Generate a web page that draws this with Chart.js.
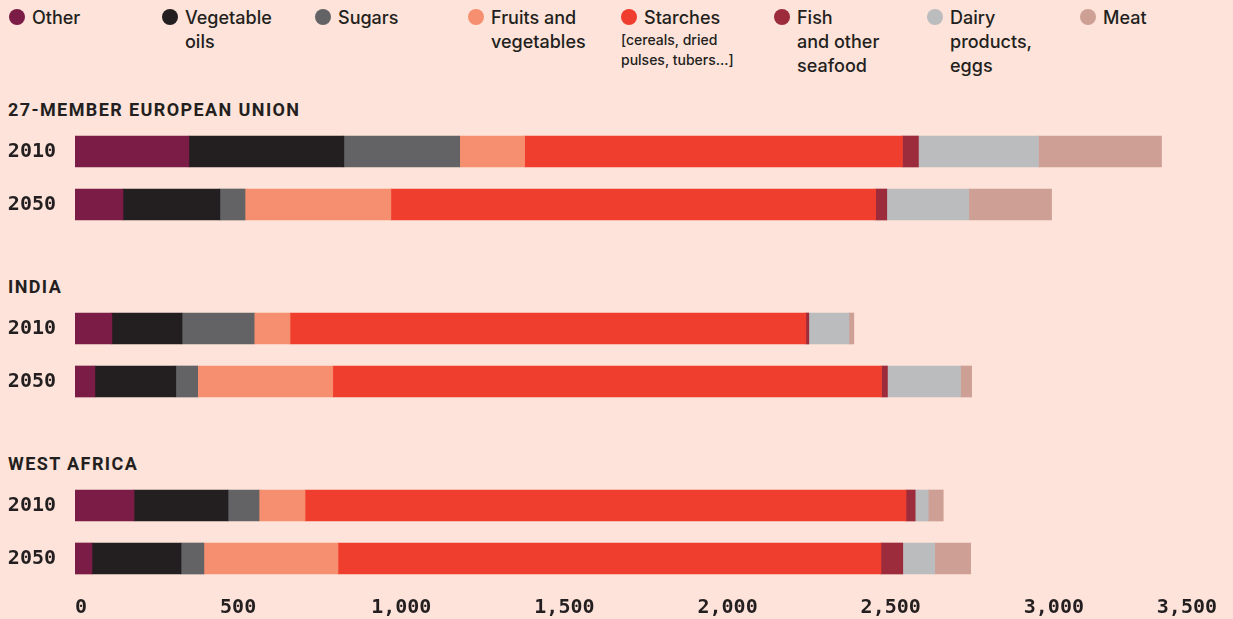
<!DOCTYPE html>
<html lang="en">
<head>
  <meta charset="UTF-8" />
  <title>Food consumption by group, 2010 and 2050</title>
  <script src="https://cdn.jsdelivr.net/npm/chart.js"></script>
  <style>
    body { margin: 0; background: #fde3d9; }
    #wrap { position: relative; width: 1233px; height: 619px; overflow: hidden; color: #231f20; }
    .legend-item { position: absolute; top: 6px; width: 153px; height: 80px; font: 500 18px Inter, sans-serif; line-height: 24px; }
    .legend-item .dot { position: absolute; left: 0; top: 3px; width: 16px; height: 16px; border-radius: 50%; }
    .legend-item .txt { position: absolute; left: 23px; top: 0; white-space: pre-line; }
    .legend-item .note { position: absolute; left: 0; top: 24px; font-size: 14px; line-height: 20px; white-space: pre-line; }
    .region { position: absolute; left: 8px; font: 700 18px Roboto, sans-serif; letter-spacing: 1.4px; line-height: 20px; }
    .box { position: absolute; left: 0; width: 1233px; }
  </style>
</head>
<body>
  <div id="wrap">
    <div id="legend"></div>
  </div>

  <script>
    // regions and years, one chart per region
    const regions = ['27-MEMBER EUROPEAN UNION', 'INDIA', 'WEST AFRICA'];
    const years = ['2010', '2050'];

    const seriesNames = ['Other', 'Vegetable\noils', 'Sugars', 'Fruits and\nvegetables', 'Starches',
                         'Fish\nand other\nseafood', 'Dairy\nproducts,\neggs', 'Meat'];
    const starchesNote = '[cereals, dried\npulses, tubers...]';
    const seriesColors = ['#7b1c47', '#231f20', '#636365', '#f58f6f', '#f03e2e', '#9c2b3b', '#bbbcbe', '#cea095'];

    // kcal per person per day, order: EU 2010, EU 2050, India 2010, India 2050, W. Africa 2010, W. Africa 2050
    const other          = [349, 147, 113,  61, 181,  52];
    const vegetableOils  = [475, 297, 215, 248, 288, 273];
    const sugars         = [355,  77, 221,  67,  95,  70];
    const fruitsVeg      = [199, 447, 110, 414, 141, 411];
    const starches       = [1158, 1486, 1581, 1682, 1842, 1664];
    const fish           = [ 49,  34,   9,  18,  28,  67];
    const dairy          = [368, 251, 123, 224,  40,  98];
    const meat           = [377, 254,  15,  34,  46, 110];
    const series = [other, vegetableOils, sugars, fruitsVeg, starches, fish, dairy, meat];

    const xTicks = [0, 500, 1000, 1500, 2000, 2500, 3000, 3500];

    // legend (html, so labels can wrap like the original)
    const legend = document.getElementById('legend');
    seriesNames.forEach((name, i) => {
      const item = document.createElement('div');
      item.className = 'legend-item';
      item.style.left = (9 + 153 * i) + 'px';
      item.innerHTML = `<span class="dot" style="background:${seriesColors[i]}"></span><div class="txt"></div>`;
      item.querySelector('.txt').textContent = name;
      if (i === 4) {
        const note = document.createElement('div');
        note.className = 'note';
        note.textContent = starchesNote;
        item.appendChild(note);
      }
      legend.appendChild(item);
    });

    const wrap = document.getElementById('wrap');
    const chartTops = [125, 302, 479];
    const tickFont = { family: "'DejaVu Sans Mono', monospace", size: 20, weight: 'bold' };

    regions.forEach((region, r) => {
      const title = document.createElement('div');
      title.className = 'region';
      title.style.top = (chartTops[r] - 25) + 'px';
      title.textContent = region;
      wrap.appendChild(title);

      const last = r === regions.length - 1;
      const box = document.createElement('div');
      box.className = 'box';
      box.style.top = chartTops[r] + 'px';
      box.style.height = (last ? 140 : 106) + 'px';
      const canvas = document.createElement('canvas');
      box.appendChild(canvas);
      wrap.appendChild(box);

      new Chart(canvas.getContext('2d'), {
        type: 'bar',
        data: {
          labels: years,
          datasets: series.map((arr, i) => ({
            label: seriesNames[i].replace(/\n/g, ' '),
            data: arr.slice(r * 2, r * 2 + 2),
            backgroundColor: seriesColors[i],
            borderWidth: 0,
            barThickness: 31
          }))
        },
        options: {
          indexAxis: 'y',
          responsive: true,
          maintainAspectRatio: false,
          animation: false,
          layout: { padding: { left: 0, right: 16, top: 0, bottom: 0 } },
          plugins: { legend: { display: false }, tooltip: { enabled: false } },
          scales: {
            x: {
              stacked: true,
              min: 0,
              max: 3500,
              display: last,
              grid: { display: false, drawTicks: false },
              border: { display: false },
              afterBuildTicks: (scale) => { scale.ticks = xTicks.map(v => ({ value: v })); },
              afterFit: (scale) => { if (last) scale.height = 34; },
              ticks: {
                align: 'inner',
                padding: 11,
                color: '#231f20',
                font: tickFont,
                maxRotation: 0,
                callback: (v) => v.toLocaleString('en-US')
              }
            },
            y: {
              stacked: true,
              grid: { display: false, drawTicks: false },
              border: { display: false },
              afterFit: (scale) => {
                scale.width = 75;
                // labels sit inside their own row, no extra room needed above/below
                scale.paddingTop = 0;
                scale.paddingBottom = 0;
              },
              ticks: { padding: 19, color: '#231f20', font: tickFont, autoSkip: false }
            }
          }
        }
      });
    });
  </script>
</body>
</html>
